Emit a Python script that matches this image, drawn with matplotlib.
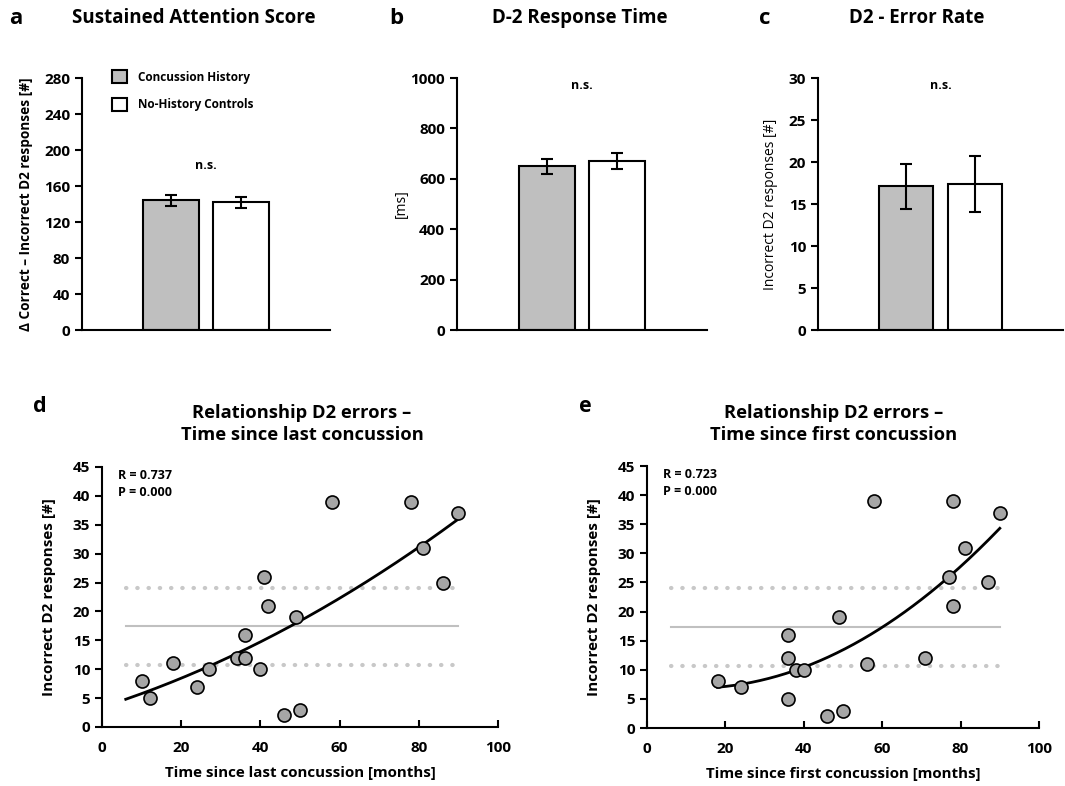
import matplotlib
matplotlib.use('Agg')
import matplotlib.pyplot as plt
from matplotlib.patches import Patch
import numpy as np

plt.rcParams['font.family'] = ['Open Sans', 'DejaVu Sans']
plt.rcParams['font.weight'] = 'bold'
plt.rcParams['axes.labelweight'] = 'bold'

# Group bar data (mean, error)
groups = ['Concussion History', 'No-History Controls']
attention_mean = [144, 142]
attention_err = [6, 6]
rt_mean = [650, 670]
rt_err = [30, 31]
errors_mean = [17.1, 17.4]
errors_err = [2.7, 3.3]

# Scatter data: D2 errors vs. time since last / first concussion
last_months = [10, 12, 18, 24, 27, 34, 36, 36, 40, 41, 42, 46, 49, 50, 58, 78, 81, 86, 90]
last_errors = [8, 5, 11, 7, 10, 12, 12, 16, 10, 26, 21, 2, 19, 3, 39, 39, 31, 25, 37]
first_months = [18, 24, 36, 36, 36, 38, 40, 46, 49, 50, 56, 58, 71, 77, 78, 78, 81, 87, 90]
first_errors = [8, 7, 16, 12, 5, 10, 10, 2, 19, 3, 11, 39, 12, 26, 39, 21, 31, 25, 37]

# Trend lines (2nd order polynomial, highest power first) and their x-range
last_fit = [0.001587, 0.219, 3.43]
last_fit_range = [6, 90]
first_fit = [0.004464, -0.103, 7.41]
first_fit_range = [18, 90]

# Control group mean +/- SD reference lines
control_mean = 17.4
control_sd = 6.7
ref_range = [6, 90]

W, H = 1065, 786
fig = plt.figure(figsize=(W / 100, H / 100), dpi=100)


def px_axes(left, right, top, bottom):
    return fig.add_axes([left / W, (H - bottom) / H, (right - left) / W, (bottom - top) / H])


def style_axes(ax):
    for side in ['top', 'right']:
        ax.spines[side].set_visible(False)
    for side in ['left', 'bottom']:
        ax.spines[side].set_linewidth(1.5)


def bar_panel(ax, means, errs, ymax, step, ylabel, label_weight, label_size, ns_y, pad):
    ax.bar([0, 1], means, width=0.79, color=['#bfbfbf', 'white'], edgecolor='black',
           linewidth=1.5, yerr=errs, capsize=4,
           error_kw=dict(elinewidth=1.5, capthick=1.5, ecolor='black'))
    ax.set_xlim(-1.27, 2.27)
    ax.set_ylim(0, ymax)
    ax.set_yticks(np.arange(0, ymax + 1, step))
    ax.set_xticks([])
    ax.tick_params(axis='y', direction='out', length=5, width=1.5, labelsize=11)
    ax.set_ylabel(ylabel, fontsize=label_size, fontweight=label_weight, labelpad=pad)
    ax.text(0.5, ns_y, 'n.s.', ha='center', va='center', fontsize=9)
    style_axes(ax)


def scatter_panel(ax, x, y, fit, fit_range, stats, xlabel):
    xs = np.linspace(fit_range[0], fit_range[1], 200)
    ax.plot(ref_range, [control_mean] * 2, color='#c0c0c0', lw=1.5, zorder=1)
    for yy in [control_mean + control_sd, control_mean - control_sd]:
        ax.plot(ref_range, [yy] * 2, color='#c8c8c8', lw=3,
                linestyle=(0, (0.1, 2.6)), dash_capstyle='round', zorder=1)
    ax.plot(xs, np.polyval(fit, xs), color='black', lw=2, zorder=2)
    ax.scatter(x, y, s=88, c='#a6a6a6', edgecolors='black', linewidths=1.2, zorder=3)
    ax.set_xlim(0, 100)
    ax.set_ylim(0, 45)
    ax.set_xticks(np.arange(0, 101, 20))
    ax.set_yticks(np.arange(0, 46, 5))
    ax.tick_params(axis='x', direction='in', length=5, width=1.5, labelsize=11, pad=10)
    ax.tick_params(axis='y', direction='out', length=5, width=1.5, labelsize=11)
    ax.text(4, 44.6, stats, ha='left', va='top', fontsize=9, linespacing=1.4)
    ax.set_xlabel(xlabel, fontsize=10.9, labelpad=8)
    ax.set_ylabel('Incorrect D2 responses [#]', fontsize=11, labelpad=12)
    style_axes(ax)


# Panel a
ax_a = px_axes(82, 330, 78, 330)
bar_panel(ax_a, attention_mean, attention_err, 280, 40,
          'Δ Correct – Incorrect D2 responses [#]', 'bold', 9.8, 183, 8)
handles = [Patch(facecolor='#bfbfbf', edgecolor='black', linewidth=1.5),
           Patch(facecolor='white', edgecolor='black', linewidth=1.5)]
ax_a.legend(handles, groups, loc='upper left', bbox_to_anchor=(0.12, 1.03),
            frameon=False, fontsize=8.5, handlelength=1.3, handleheight=1.3,
            labelspacing=1.2, handletextpad=0.9, borderpad=0, borderaxespad=0)

# Panel b
ax_b = px_axes(457, 707, 78, 330)
bar_panel(ax_b, rt_mean, rt_err, 1000, 200, '[ms]', 'normal', 10, 970, 1)

# Panel c
ax_c = px_axes(818, 1063, 78, 330)
bar_panel(ax_c, errors_mean, errors_err, 30, 5, 'Incorrect D2 responses [#]', 'normal', 10,
          29.1, 8)

# Panel d
ax_d = px_axes(102, 498, 467, 727)
scatter_panel(ax_d, last_months, last_errors, last_fit, last_fit_range,
              'R = 0.737\nP = 0.000', 'Time since last concussion [months]')

# Panel e
ax_e = px_axes(647, 1039, 466, 728)
scatter_panel(ax_e, first_months, first_errors, first_fit, first_fit_range,
              'R = 0.723\nP = 0.000', 'Time since first concussion [months]')

# Titles and panel letters
def fig_text(x, y, s, size, **kw):
    fig.text(x / W, 1 - y / H, s, fontsize=size, va='center', **kw)

fig_text(9, 18, 'a', 16)
fig_text(194, 18, 'Sustained Attention Score', 13.5, ha='center')
fig_text(389, 18, 'b', 16)
fig_text(580, 18, 'D-2 Response Time', 13.5, ha='center')
fig_text(759, 18, 'c', 16)
fig_text(917, 18, 'D2 - Error Rate', 13.5, ha='center')
fig_text(33, 406, 'd', 15.5)
fig_text(302, 424, 'Relationship D2 errors –\nTime since last concussion', 13.2,
         ha='center', linespacing=1.35)
fig_text(579, 406, 'e', 15.5)
fig_text(834, 424, 'Relationship D2 errors –\nTime since first concussion', 13.2,
         ha='center', linespacing=1.35)

fig.savefig('out.png', dpi=100)
